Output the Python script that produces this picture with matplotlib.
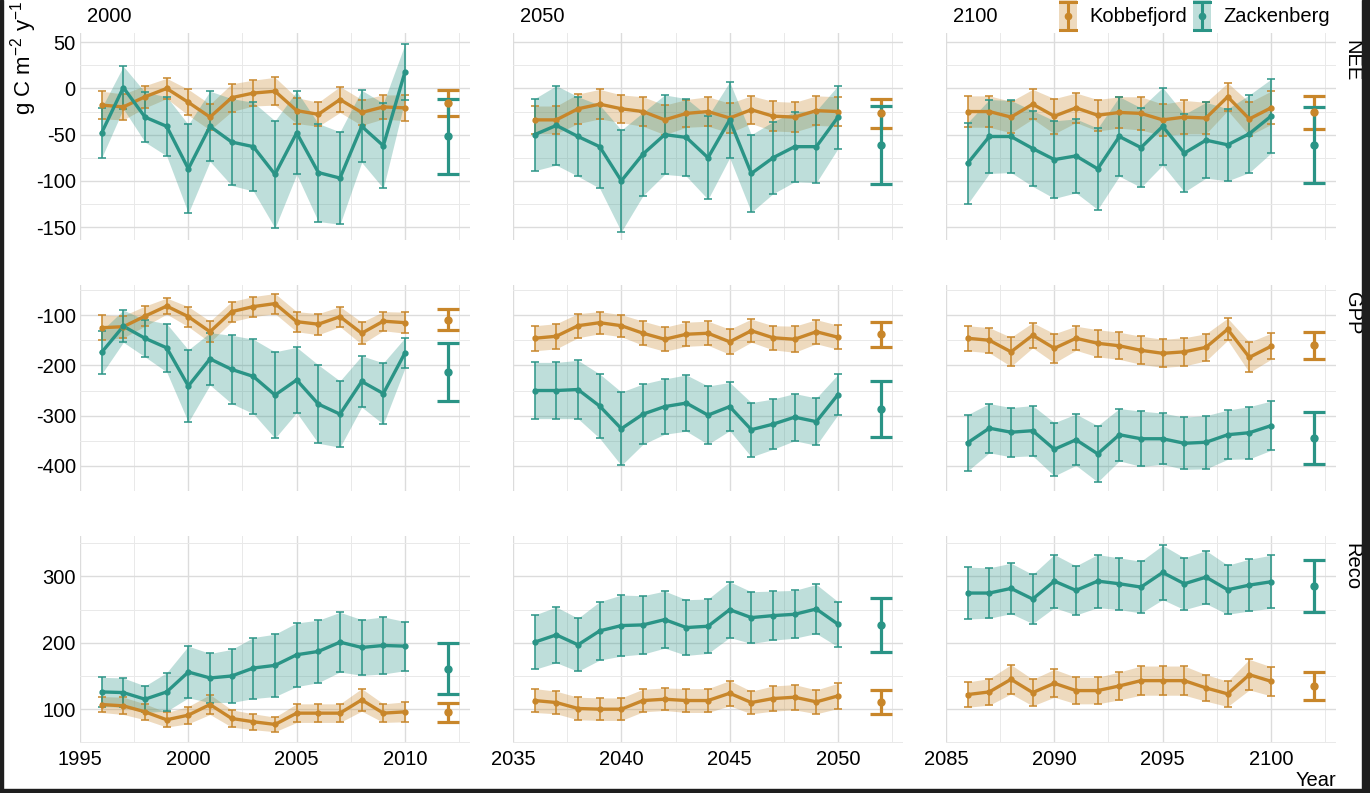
import matplotlib
matplotlib.use('Agg')
import matplotlib.pyplot as plt
from matplotlib.patches import Rectangle
from matplotlib.ticker import FixedLocator
import numpy as np

plt.rcParams['font.family'] = ['Liberation Sans', 'DejaVu Sans']
plt.rcParams['mathtext.fontset'] = 'custom'
plt.rcParams['mathtext.rm'] = 'Liberation Sans'
plt.rcParams['mathtext.it'] = 'Liberation Sans:italic'
plt.rcParams['axes.unicode_minus'] = False
plt.rcParams['font.size'] = 14.5

# ---- data ----
periods = ['2000', '2050', '2100']
years_2000 = list(range(1996, 2011))
years_2050 = list(range(2036, 2051))
years_2100 = list(range(2086, 2101))
summary_x = [2012, 2052, 2102]
variables = ['NEE', 'GPP', 'Reco']
sites = ['Kobbefjord', 'Zackenberg']

# NEE
nee_kob = [[-18, -20, -9, 0, -15, -31, -10, -5, -3, -24, -28, -12, -26, -20, -21],
           [-34, -34, -22, -17, -22, -25, -34, -27, -25, -32, -23, -30, -31, -24, -25],
           [-25, -25, -31, -17, -30, -21, -29, -26, -27, -34, -31, -32, -9, -33, -21]]
nee_kob_sd = [[15, 14, 12, 11, 14, 14, 15, 14, 15, 14, 13, 14, 14, 13, 14],
              [15, 15, 16, 16, 15, 16, 16, 15, 16, 16, 15, 16, 16, 16, 16],
              [17, 17, 17, 16, 19, 16, 17, 17, 18, 17, 18, 17, 15, 18, 18]]
nee_zac = [[-48, 1, -31, -41, -87, -41, -58, -63, -93, -48, -91, -97, -41, -62, 18],
           [-50, -40, -52, -63, -100, -71, -50, -53, -75, -34, -92, -75, -63, -63, -31],
           [-81, -52, -52, -65, -77, -73, -87, -52, -64, -41, -70, -56, -61, -49, -30]]
nee_zac_sd = [[27, 23, 27, 32, 48, 38, 47, 48, 58, 45, 53, 50, 39, 46, 30],
              [39, 43, 43, 45, 55, 45, 43, 42, 45, 41, 42, 39, 38, 39, 34],
              [44, 40, 39, 41, 42, 40, 44, 43, 43, 42, 42, 41, 39, 42, 40]]
nee_kob_mean = [-16, -27, -26]
nee_kob_mean_sd = [14, 16, 18]
nee_zac_mean = [-52, -61, -61]
nee_zac_mean_sd = [41, 42, 41]

# GPP
gpp_kob = [[-125, -123, -102, -82, -103, -133, -93, -83, -77, -113, -118, -103, -136, -112, -115],
           [-146, -142, -121, -115, -121, -136, -148, -138, -136, -153, -131, -145, -148, -133, -144],
           [-146, -150, -173, -140, -166, -146, -156, -161, -170, -176, -173, -164, -128, -184, -162]]
gpp_kob_sd = [[25, 22, 20, 16, 20, 21, 20, 20, 20, 20, 21, 20, 22, 19, 21],
              [25, 25, 24, 22, 22, 24, 24, 24, 24, 25, 23, 24, 26, 24, 24],
              [25, 25, 29, 25, 29, 24, 27, 27, 28, 28, 28, 27, 22, 30, 26]]
gpp_zac = [[-174, -122, -146, -165, -241, -187, -208, -222, -259, -229, -277, -297, -232, -256, -175],
           [-250, -250, -248, -281, -326, -297, -282, -275, -299, -282, -328, -317, -303, -312, -258],
           [-354, -325, -333, -330, -367, -348, -376, -338, -346, -346, -355, -353, -338, -334, -320]]
gpp_zac_sd = [[43, 32, 37, 48, 72, 52, 68, 74, 86, 65, 78, 66, 51, 61, 30],
              [56, 56, 58, 64, 73, 60, 55, 56, 58, 48, 54, 50, 47, 47, 40],
              [56, 49, 49, 50, 53, 51, 56, 52, 55, 51, 52, 53, 49, 52, 49]]
gpp_kob_mean = [-109, -138, -160]
gpp_kob_mean_sd = [21, 25, 27]
gpp_zac_mean = [-213, -287, -345]
gpp_zac_mean_sd = [58, 55, 52]

# Reco
reco_kob = [[107, 105, 96, 84, 91, 107, 86, 81, 77, 94, 94, 94, 114, 94, 96],
            [113, 110, 101, 100, 100, 113, 115, 113, 113, 124, 110, 116, 118, 111, 120],
            [122, 126, 145, 125, 139, 128, 128, 135, 143, 143, 143, 132, 123, 152, 142]]
reco_kob_sd = [[12, 13, 12, 11, 13, 15, 13, 12, 11, 14, 14, 14, 17, 14, 15],
               [18, 17, 17, 17, 17, 17, 17, 18, 18, 19, 17, 19, 19, 18, 19],
               [19, 20, 22, 20, 21, 20, 20, 21, 22, 22, 22, 20, 19, 23, 22]]
reco_zac = [[126, 125, 115, 126, 156, 147, 150, 162, 166, 182, 187, 201, 193, 196, 195],
            [201, 212, 197, 218, 226, 227, 235, 223, 225, 250, 238, 241, 243, 251, 228],
            [275, 275, 282, 266, 293, 279, 293, 289, 284, 306, 289, 299, 280, 287, 292]]
reco_zac_sd = [[22, 22, 20, 29, 39, 37, 40, 46, 47, 48, 47, 45, 42, 43, 37],
               [41, 42, 40, 44, 46, 44, 43, 42, 41, 42, 39, 37, 36, 37, 34],
               [39, 38, 38, 37, 40, 37, 40, 39, 39, 41, 39, 40, 37, 39, 40]]
reco_kob_mean = [95, 111, 135]
reco_kob_mean_sd = [14, 18, 21]
reco_zac_mean = [161, 227, 286]
reco_zac_mean_sd = [38, 41, 39]

years = [years_2000, years_2050, years_2100]
series = {
    'NEE': [(nee_kob, nee_kob_sd, nee_kob_mean, nee_kob_mean_sd),
            (nee_zac, nee_zac_sd, nee_zac_mean, nee_zac_mean_sd)],
    'GPP': [(gpp_kob, gpp_kob_sd, gpp_kob_mean, gpp_kob_mean_sd),
            (gpp_zac, gpp_zac_sd, gpp_zac_mean, gpp_zac_mean_sd)],
    'Reco': [(reco_kob, reco_kob_sd, reco_kob_mean, reco_kob_mean_sd),
             (reco_zac, reco_zac_sd, reco_zac_mean, reco_zac_mean_sd)],
}

colors = ['#C8862A', '#2A9486']

ylims = {'NEE': (-164, 60), 'GPP': (-450, -40), 'Reco': (49, 361)}
ymajor = {'NEE': [-150, -100, -50, 0, 50], 'GPP': [-400, -300, -200, -100], 'Reco': [100, 200, 300]}
yminor = {'NEE': [-125, -75, -25, 25], 'GPP': [-450, -350, -250, -150, -50], 'Reco': [50, 150, 250, 350]}

W, H = 1370, 793
fig = plt.figure(figsize=(W / 100, H / 100), dpi=100)

col_left = [80, 513, 946]
col_w = 390
row_top = [33, 285, 536]
row_h = [207, 206, 207]

for r, var in enumerate(variables):
    for c in range(3):
        ax = fig.add_axes([col_left[c] / W, 1 - (row_top[r] + row_h[r]) / H,
                           col_w / W, row_h[r] / H])
        x0 = years[c][0] - 1
        ax.set_xlim(x0, x0 + 18)
        ax.set_ylim(*ylims[var])
        ax.set_xticks([x0, x0 + 5, x0 + 10, x0 + 15])
        ax.xaxis.set_minor_locator(FixedLocator([x0 + 2.5, x0 + 7.5, x0 + 12.5, x0 + 17.5]))
        ax.set_yticks(ymajor[var])
        ax.yaxis.set_minor_locator(FixedLocator(yminor[var]))
        ax.grid(which='major', color='#dcdcdc', lw=1.0)
        ax.grid(which='minor', color='#e9e9e9', lw=0.7)
        ax.set_axisbelow(True)
        for s in ax.spines.values():
            s.set_visible(False)
        ax.tick_params(which='both', length=0, labelsize=14.5)
        ax.tick_params(axis='y', pad=3)
        ax.tick_params(axis='x', pad=5)
        if c != 0:
            ax.set_yticklabels([])
        if r != 2:
            ax.set_xticklabels([])

        for k, (m_all, sd_all, sm, ss) in enumerate(series[var]):
            col = colors[k]
            yrs = np.array(years[c])
            m = np.array(m_all[c])
            sd = np.array(sd_all[c])
            ax.fill_between(yrs, m - sd, m + sd, color=col, alpha=0.3, lw=0, zorder=2)
            ax.errorbar(yrs, m, yerr=sd, fmt='none', ecolor=col, elinewidth=1.1,
                        capsize=3, capthick=1.1, zorder=3)
            ax.plot(yrs, m, color=col, lw=2.4, zorder=4)
            ax.plot(yrs, m, 'o', color=col, ms=3.5, zorder=5)
            ax.errorbar([summary_x[c]], [sm[c]], yerr=[ss[c]], fmt='o', color=col, ms=5,
                        elinewidth=2.3, capsize=8, capthick=2.3, zorder=5)

        if r == 0:
            fig.text((col_left[c] + 7) / W, 1 - 17 / H, periods[c], ha='left', va='center',
                     fontsize=14.5)
        if c == 2:
            fig.text(1352 / W, 1 - (row_top[r] + 7) / H, var, rotation=-90,
                     ha='center', va='top', fontsize=14.5)

fig.text(24 / W, 1 - 1 / H, r'g C m$^{-2}$ y$^{-1}$', rotation=90, ha='center', va='top',
         fontsize=16)
fig.text(1336 / W, 1 - 781 / H, 'Year', ha='right', va='center', fontsize=14.5)

# legend drawn as small keys at the top
leg_x = [1068, 1202]
for k, site in enumerate(sites):
    lax = fig.add_axes([(leg_x[k] - 9) / W, 1 - 32 / H, 18 / W, 32 / H])
    lax.set_xlim(-1, 1)
    lax.set_ylim(-1, 1)
    lax.axis('off')
    lax.add_patch(Rectangle((-1, -1), 2, 2, color=colors[k], alpha=0.3, lw=0))
    lax.errorbar([0], [0], yerr=[0.9], fmt='o', color=colors[k], ms=4.5,
                 elinewidth=2.2, capsize=7, capthick=2.2)
    fig.text((leg_x[k] + 21) / W, 1 - 16 / H, site, ha='left', va='center', fontsize=14.5)

# dark screenshot border
fig.add_artist(Rectangle((0, 0), 3 / W, 1, transform=fig.transFigure, color='#1e1e1e', zorder=20))
fig.add_artist(Rectangle((1362 / W, 0), 8 / W, 1, transform=fig.transFigure, color='#1e1e1e', zorder=20))
fig.add_artist(Rectangle((0, 0), 1, 4 / H, transform=fig.transFigure, color='#1e1e1e', zorder=20))

fig.savefig('out.png', dpi=100)
